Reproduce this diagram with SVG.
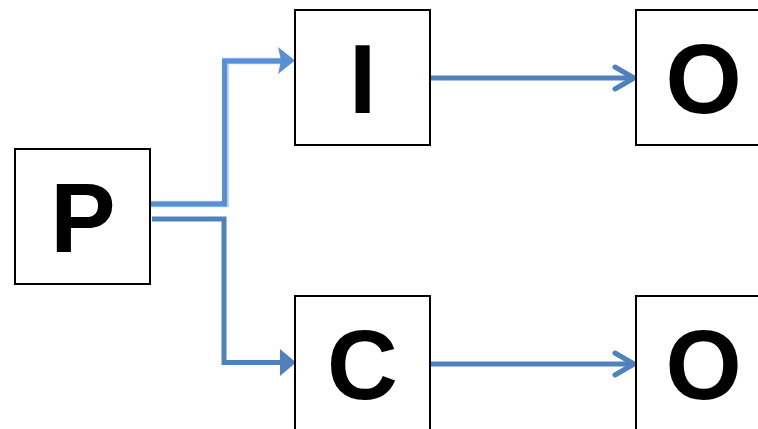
<svg xmlns="http://www.w3.org/2000/svg" width="758" height="429" viewBox="0 0 758 429">
  <style>
    .box rect { fill: #ffffff; stroke: #000000; stroke-width: 2; }
    .box text { font-family: "Liberation Sans", Arial, sans-serif; font-weight: bold; font-size: 98px; fill: #000000; text-anchor: middle; }
    .link { fill: none; stroke: #4f81bd; stroke-width: 5; }
    .halo { fill: none; stroke: #b3cff0; stroke-width: 6.5; }
    .soft { fill: none; stroke: #5890d3; stroke-width: 5; }
    .head { fill: #4f81bd; }
    .softhead { fill: #5890d3; }
    .open { fill: none; stroke: #4f81bd; stroke-width: 5; stroke-linecap: round; stroke-linejoin: round; }
  </style>
  <rect width="758" height="429" fill="#ffffff"/>

  <g id="connectors">
    <!-- P to I (lighter, soft-edged elbow) -->
    <path class="halo" d="M151,204 H225.5 V61 H281"/>
    <path class="soft" d="M151,204 H224.5 V61 H281"/>
    <polygon class="softhead" points="278,47 295,60.5 278,74 281,60.5"/>
    <!-- P to C elbow -->
    <path class="link" d="M152,219 H224 V362.5 H282"/>
    <polygon class="head" points="280,349 296,362.5 280,376"/>
    <!-- I to O -->
    <path class="open" d="M430,78 H633"/>
    <polyline class="open" points="615,67 634,78 615,89"/>
    <!-- C to O -->
    <path class="open" d="M430,364 H633"/>
    <polyline class="open" points="615,353 634,364 615,375"/>
  </g>

  <g id="node-P" class="box">
    <rect x="15" y="149" width="135" height="135"/>
    <text x="83" y="252">P</text>
  </g>
  <g id="node-I" class="box">
    <rect x="295" y="10" width="135" height="135"/>
    <text x="362.5" y="113">I</text>
  </g>
  <g id="node-C" class="box">
    <rect x="295" y="296" width="135" height="135"/>
    <text x="362.5" y="399">C</text>
  </g>
  <g id="node-O-top" class="box">
    <rect x="636" y="10" width="135" height="135"/>
    <text x="703.5" y="113">O</text>
  </g>
  <g id="node-O-bottom" class="box">
    <rect x="636" y="296" width="135" height="135"/>
    <text x="703.5" y="399">O</text>
  </g>
</svg>
